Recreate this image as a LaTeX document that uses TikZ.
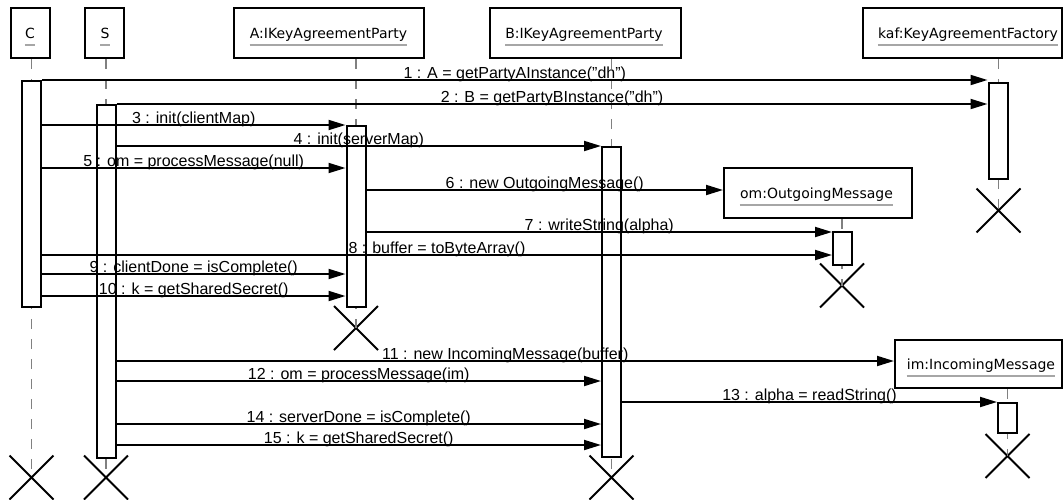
\documentclass[tikz,border=0pt]{standalone}
\usepackage{fontspec}
\setmainfont{Liberation Sans}
\newfontfamily\hdrfont{DejaVu Sans}
\usetikzlibrary{arrows.meta,shapes.misc,calc}
\begin{document}
\begin{tikzpicture}[x=1pt,y=1pt,
  hdr/.style={draw, line width=2pt, fill=white, anchor=north west, inner sep=0},
  htxt/.style={font=\hdrfont\fontsize{14}{16}\selectfont, anchor=base, inner sep=0},
  uline/.style={draw=gray!70, line width=1.3pt},
  life/.style={draw=gray, line width=1.3pt, dash pattern=on 10pt off 10pt},
  act/.style={draw, fill=white, line width=2pt, minimum width=19pt, anchor=north, inner sep=0},
  msg/.style={line width=1.9pt, -{Triangle[length=17pt,width=10pt]}},
  lbl/.style={font=\fontsize{16}{18}\selectfont, anchor=base, inner sep=0, yshift=1.5pt},
  kill/.style={cross out, draw, line width=2pt, minimum size=42pt, inner sep=0}]
\useasboundingbox (0,0) rectangle (1063,-499);

% header boxes
\node[hdr, minimum width=39pt, minimum height=50pt] (hC) at (10,-7) {};
\node[hdr, minimum width=39pt, minimum height=50pt] (hS) at (84,-7) {};
\node[hdr, minimum width=190pt, minimum height=50pt] (hA) at (233,-7) {};
\node[hdr, minimum width=191pt, minimum height=50pt] (hB) at (489,-7) {};
\node[hdr, minimum width=199pt, minimum height=50pt] (hK) at (862,-7) {};
\node[hdr, minimum width=188pt, minimum height=50pt] (hOm) at (723,-167) {};
\node[hdr, minimum width=167pt, minimum height=48pt] (hIm) at (894,-339) {};

% header texts
\node[htxt] (tC) at (30,-38) {C};
\node[htxt] (tS) at (105,-38) {S};
\node[htxt] (tA) at (328.5,-38) {A:IKeyAgreementParty};
\node[htxt] (tB) at (584,-38) {B:IKeyAgreementParty};
\node[htxt] (tK) at (968,-38) {kaf:KeyAgreementFactory};
\node[htxt] (tOm) at (816.5,-198) {om:OutgoingMessage};
\node[htxt] (tIm) at (981,-369) {im:IncomingMessage};
\foreach \t in {tC,tS,tA,tB,tK,tOm,tIm}
  \draw[uline] ($(\t.base west)+(0,-7)$) -- ($(\t.base east)+(0,-7)$);

% destruction marks
\node[kill] (xC) at (31.5,-477.5) {};
\node[kill] (xS) at (106,-477.5) {};
\node[kill] (xA) at (356,-328) {};
\node[kill] (xB) at (611.5,-477.5) {};
\node[kill] (xK) at (998.5,-210.5) {};
\node[kill] (xOm) at (842,-285.5) {};
\node[kill] (xIm) at (1007.5,-456) {};

% lifelines
\draw[life] (xC |- hC.south) -- (xC.center);
\draw[life] (xS |- hS.south) -- (xS.center);
\draw[life] (xA |- hA.south) -- (xA.center);
\draw[life] (xB |- hB.south) -- (xB.center);
\draw[life] (xK |- hK.south) -- (xK.center);
\draw[life] (xOm |- hOm.south) -- (xOm.center);
\draw[life] (xIm |- hIm.south) -- (xIm.center);

% activation boxes
\node[act, minimum height=226pt] (aC) at (31.5,-80) {};
\node[act, minimum height=353pt] (aS) at (106,-104) {};
\node[act, minimum height=181pt] (aA) at (356,-125) {};
\node[act, minimum height=310pt] (aB) at (611.5,-146) {};
\node[act, minimum height=96pt] (aK) at (998,-82) {};
\node[act, minimum height=33pt] (aOm) at (842.5,-231) {};
\node[act, minimum height=30pt] (aIm) at (1007.5,-402) {};

% messages
\draw[msg] (aC.east |- 0,-80) -- node[lbl]{1 : A = getPartyAInstance("dh")} (aK.west |- 0,-80);
\draw[msg] (aS.east |- 0,-104) -- node[lbl]{2 : B = getPartyBInstance("dh")} (aK.west |- 0,-104);
\draw[msg] (aC.east |- 0,-125) -- node[lbl]{3 : init(clientMap)} (aA.west |- 0,-125);
\draw[msg] (aS.east |- 0,-146) -- node[lbl]{4 : init(serverMap)} (aB.west |- 0,-146);
\draw[msg] (aC.east |- 0,-168) -- node[lbl]{5 : om = processMessage(null)} (aA.west |- 0,-168);
\draw[msg] (aA.east |- 0,-190) -- node[lbl]{6 : new OutgoingMessage()} (hOm.west |- 0,-190);
\draw[msg] (aA.east |- 0,-232) -- node[lbl]{7 : writeString(alpha)} (aOm.west |- 0,-232);
\draw[msg] (aC.east |- 0,-255) -- node[lbl]{8 : buffer = toByteArray()} (aOm.west |- 0,-255);
\draw[msg] (aC.east |- 0,-274) -- node[lbl]{9 : clientDone = isComplete()} (aA.west |- 0,-274);
\draw[msg] (aC.east |- 0,-296) -- node[lbl]{10 : k = getSharedSecret()} (aA.west |- 0,-296);
\draw[msg] (aS.east |- 0,-361) -- node[lbl]{11 : new IncomingMessage(buffer)} (hIm.west |- 0,-361);
\draw[msg] (aS.east |- 0,-381) -- node[lbl]{12 : om = processMessage(im)} (aB.west |- 0,-381);
\draw[msg] (aB.east |- 0,-402) -- node[lbl]{13 : alpha = readString()} (aIm.west |- 0,-402);
\draw[msg] (aS.east |- 0,-424) -- node[lbl]{14 : serverDone = isComplete()} (aB.west |- 0,-424);
\draw[msg] (aS.east |- 0,-445) -- node[lbl]{15 : k = getSharedSecret()} (aB.west |- 0,-445);
\end{tikzpicture}
\end{document}
